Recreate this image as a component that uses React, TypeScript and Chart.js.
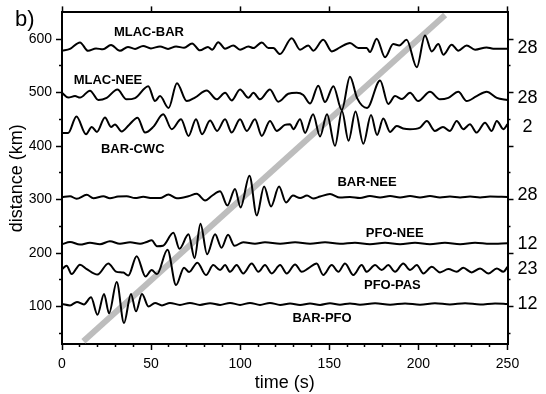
import React, { useEffect, useRef } from 'react';
import { Chart, registerables } from 'chart.js';

Chart.register(...registerables);

const FONT = "'Liberation Sans', Arial, Helvetica, sans-serif";

// tick values
const X_MAJOR_TICKS = [0, 50, 100, 150, 200, 250];
const X_MINOR_TICKS = [10, 20, 30, 40, 60, 70, 80, 90, 110, 120, 130, 140, 160, 170, 180, 190, 210, 220, 230, 240];
const Y_MAJOR_TICKS = [100, 200, 300, 400, 500, 600];
const Y_MINOR_TICKS = [50, 150, 250, 350, 450, 550];

// trace names and where their labels sit (time s, distance km)
const TRACE_NAMES = ['MLAC-BAR', 'MLAC-NEE', 'BAR-CWC', 'BAR-NEE', 'PFO-NEE', 'PFO-PAS', 'BAR-PFO'];
const NAME_TIME = [48.8, 25.8, 39.7, 171.2, 186.7, 185.4, 145.9];
const NAME_DIST = [613, 523, 394.4, 332.3, 236.4, 139, 78.3];

// numbers on the right side
const RIGHT_LABELS = ['28', '28', '2', '28', '12', '23', '12'];
const RIGHT_DIST = [583.3, 490.3, 435.9, 307.6, 217.8, 169.5, 104.4];

// 3 km/s move-out line
const ARRIVAL: [number, number][] = [[12, 35], [215, 645]];

// traces: [time (s), distance (km)]
const MLAC_BAR: [number, number][] = [[0,578.5],[4.5,581.8],[10.1,593.9],[14.6,578.1],[19.1,582.7],[23.0,580.9],[27.5,589.2],[32.5,578.1],[37.0,585.5],[41.0,581.8],[45.5,587.4],[49.9,582.7],[55.0,586.4],[59.5,581.8],[64.0,586.4],[68.5,583.7],[73.0,592.0],[77.4,579.0],[81.9,585.5],[84.2,580.3],[87.7,594.4],[91.5,582.2],[96.1,588.3],[99.9,580.3],[104.6,586.4],[107.4,583.3],[112.1,593.9],[115.8,583.3],[118.6,583.3],[122.3,572.1],[128.9,601.9],[133.6,580.3],[138.2,588.3],[141.0,578.5],[146.6,598.9],[151.4,577.1],[156.0,584.6],[161.6,592.6],[166.3,583.3],[171.0,583.3],[172.8,575.8],[176.6,600.8],[181.3,566.0],[185.9,590.7],[189.3,588.3],[193.4,598.9],[199.1,547.4],[203.7,606.9],[207.5,577.1],[211.2,590.7],[214.0,571.0],[218.7,589.6],[222.4,578.5],[227.1,588.3],[231.8,580.3],[238.3,584.6],[242.0,582.2],[250,582.2]];

const MLAC_NEE: [number, number][] = [[0,499.6],[3.5,490.7],[7.3,493.5],[10.1,490.7],[15.7,503.7],[20.4,486.1],[25.1,490.3],[31.1,505.9],[36.2,487.4],[41.0,489.8],[48.4,512.1],[52.2,484.2],[55.0,493.5],[59.8,471.2],[64.5,517.7],[70.0,484.2],[74.6,490.7],[81.2,504.1],[86.8,487.4],[91.5,499.6],[95.2,485.5],[99.9,505.9],[104.6,490.3],[107.4,499.6],[111.1,487.4],[116.7,505.9],[121.4,482.9],[127.0,497.8],[131.7,499.6],[135.4,495.4],[139.2,479.6],[143.8,513.0],[147.6,482.3],[152.3,512.1],[157.0,467.5],[161.6,529.7],[165.6,489.8],[171.2,471.2],[178.5,522.7],[183.1,478.6],[186.9,493.5],[190.8,487.9],[195.3,499.6],[199.9,484.2],[206.5,501.5],[212.1,487.4],[216.8,490.3],[222.4,501.5],[227.1,484.2],[232.7,493.5],[238.3,501.5],[244.0,490.3],[250,486.1]];

const BAR_CWC: [number, number][] = [[0,424.7],[3.5,424.7],[8.1,455.4],[13.5,422.3],[16.7,435.9],[19.6,426.6],[24.1,453.5],[27.5,435.9],[29.7,440.5],[33.5,427.5],[37.6,439.6],[42.4,453.2],[46.6,425.3],[51.2,435.9],[56.8,459.5],[61.6,431.6],[66.8,450.2],[71.0,419.1],[75.2,450.2],[78.6,422.3],[83.1,447.9],[87.0,428.4],[91.5,450.2],[95.2,425.3],[99.9,450.2],[103.7,428.4],[108.3,450.2],[112.1,419.1],[116.7,447.0],[120.5,428.4],[125.1,439.6],[128.0,440.9],[129.8,431.6],[133.6,450.2],[136.4,424.7],[140.9,459.5],[144.8,418.2],[148.7,459.5],[153.2,400.5],[157.1,465.6],[160.8,409.8],[164.7,464.7],[169.1,404.3],[173.4,458.2],[176.8,421.0],[180.3,451.7],[184.1,426.6],[187.8,437.7],[191.4,433.1],[195.3,431.6],[200.9,434.6],[204.7,447.0],[209.3,428.4],[213.8,435.9],[217.7,428.4],[221.5,447.0],[225.2,431.6],[228.9,440.9],[232.7,425.3],[237.4,443.9],[241.1,428.4],[244.0,447.0],[247.7,431.6],[250,440.9]];

const BAR_NEE: [number, number][] = [[0,304.8],[4.5,306.3],[8.2,301.5],[13.9,308.9],[17.6,302.6],[23.2,306.3],[26.9,302.6],[31.4,305.7],[36.3,306.3],[41.0,302.9],[45.6,305.2],[50.5,302.9],[55.0,302.9],[59.7,309.4],[64.4,302.6],[70.9,306.3],[75.6,310.8],[80.3,298.3],[84.0,306.7],[88.7,315.6],[92.8,289.0],[97.1,320.0],[100.2,285.3],[105.2,344.8],[109.3,270.4],[113.4,324.3],[117.3,287.1],[121.8,324.3],[125.7,294.6],[129.6,307.6],[133.6,302.9],[137.5,307.6],[141.0,302.0],[144.8,305.7],[150.4,310.4],[156.0,303.9],[161.6,304.8],[167.2,302.9],[172.8,306.7],[178.5,303.9],[184.1,306.7],[189.7,303.9],[195.3,306.7],[200.9,303.9],[206.5,306.7],[212.1,303.9],[217.7,305.7],[223.4,303.9],[229.0,305.7],[234.6,303.9],[240.2,305.7],[250,304.8]];

const PFO_NEE: [number, number][] = [[0,216.5],[4.5,220.8],[10.1,215.9],[15.7,219.3],[21.3,216.5],[26.9,222.1],[32.5,217.4],[38.2,220.2],[43.8,217.4],[47.5,220.8],[50.3,223.9],[53.3,212.8],[56.7,213.7],[62.5,237.9],[65.9,208.1],[71.0,235.1],[74.4,190.5],[77.7,255.0],[81.4,197.9],[85.9,235.1],[89.5,210.0],[93.2,234.2],[96.8,213.7],[101.7,220.2],[108.3,217.4],[113.9,220.2],[122.4,217.4],[130.8,220.2],[139.2,217.4],[147.6,220.2],[156.0,217.4],[164.4,219.3],[172.8,216.5],[181.3,219.3],[189.7,216.5],[198.1,219.3],[206.5,216.5],[214.9,219.3],[223.4,216.5],[231.8,219.3],[240.2,217.4],[250,218.4]];

const PFO_PAS: [number, number][] = [[0,170.0],[2.6,176.5],[5.4,160.7],[10.1,178.4],[13.9,170.0],[19.9,159.8],[26.0,180.6],[30.3,165.4],[34.4,163.5],[37.2,157.9],[41.9,194.2],[46.9,156.1],[50.3,168.2],[53.3,160.7],[59.2,206.3],[64.0,140.3],[68.5,172.8],[71.3,164.5],[76.0,182.1],[80.8,158.9],[84.9,177.5],[88.7,168.2],[91.5,177.5],[94.3,165.0],[98.0,177.5],[101.7,162.0],[106.5,180.6],[110.2,165.0],[113.9,177.5],[117.7,162.0],[122.4,177.5],[126.1,162.0],[130.8,178.8],[134.5,165.0],[138.2,171.3],[142.9,180.6],[146.6,158.9],[151.4,177.5],[155.1,165.0],[158.8,180.6],[163.5,158.9],[168.2,177.5],[171.0,165.0],[175.7,177.5],[179.4,168.2],[183.1,177.5],[186.9,165.0],[191.5,180.6],[195.3,168.2],[199.1,177.5],[202.8,162.0],[207.5,174.3],[212.1,163.9],[216.8,170.0],[221.5,165.0],[225.2,172.4],[229.9,163.9],[234.6,171.3],[239.3,162.0],[244.0,171.3],[247.7,165.0],[250,174.3]];

const BAR_PFO: [number, number][] = [[0,104.9],[4.5,102.2],[8.4,108.7],[12.3,104.0],[16.3,117.4],[19.9,84.5],[23.6,123.6],[26.4,87.3],[30.7,145.9],[34.8,69.1],[38.7,123.6],[41.5,91.0],[44.9,123.6],[48.5,100.3],[52.2,106.8],[56.1,102.2],[60.6,106.8],[66.2,103.1],[71.8,106.8],[77.4,103.1],[83.1,106.2],[88.7,103.1],[94.3,106.8],[99.9,103.1],[105.5,106.8],[111.1,103.1],[116.7,106.8],[122.4,103.1],[128.0,105.9],[133.6,103.1],[139.2,105.9],[144.8,103.1],[150.4,106.2],[156.0,103.5],[161.6,105.9],[167.2,103.5],[175.7,106.2],[184.1,103.5],[192.5,105.9],[200.9,103.5],[209.3,106.2],[217.7,104.0],[226.2,106.2],[234.6,104.0],[243.0,105.9],[250,104.9]];

const TRACES = [MLAC_BAR, MLAC_NEE, BAR_CWC, BAR_NEE, PFO_NEE, PFO_PAS, BAR_PFO];

const setTicks = (vals: number[]) => (s: any) => {
  s.ticks = vals.map((v) => ({ value: v }));
};

const textPlugin = {
  id: 'seisText',
  afterDraw(chart: any) {
    const { ctx, scales } = chart;
    const xs = scales.x;
    const ys = scales.y;
    ctx.save();
    ctx.fillStyle = '#000';
    ctx.textAlign = 'center';
    ctx.textBaseline = 'middle';
    ctx.font = `bold 13px ${FONT}`;
    TRACE_NAMES.forEach((n, i) => {
      ctx.fillText(n, xs.getPixelForValue(NAME_TIME[i]), ys.getPixelForValue(NAME_DIST[i]));
    });
    ctx.font = `18px ${FONT}`;
    const xr = scales.yRight.left + 20;
    RIGHT_LABELS.forEach((g, i) => {
      ctx.fillText(g, xr, ys.getPixelForValue(RIGHT_DIST[i]));
    });
    ctx.textAlign = 'left';
    ctx.textBaseline = 'alphabetic';
    ctx.font = `22px ${FONT}`;
    ctx.fillText('b)', 15, 26);
    ctx.restore();
  },
};

export default function App() {
  const ref = useRef<HTMLCanvasElement>(null);
  useEffect(() => {
    document.body.style.margin = '0';
    Chart.defaults.font.family = FONT;
    Chart.defaults.color = '#000';
    const axisBase = (min: number, max: number) => ({
      type: 'linear' as const,
      min,
      max,
    });
    const tickGrid = (len: number) => ({
      display: true,
      drawOnChartArea: false,
      drawTicks: true,
      tickLength: len,
      tickWidth: 1.5,
      tickColor: '#000',
    });
    const datasets: any[] = TRACES.map((pts) => ({
      data: pts.map(([x, y]) => ({ x, y })),
      showLine: true,
      borderColor: '#000',
      borderWidth: 2,
      pointRadius: 0,
      cubicInterpolationMode: 'monotone',
      xAxisID: 'x',
      yAxisID: 'y',
      order: 0,
    }));
    datasets.push({
      data: ARRIVAL.map(([x, y]) => ({ x, y })),
      showLine: true,
      borderColor: '#bdbdbd',
      borderWidth: 6,
      pointRadius: 0,
      xAxisID: 'x',
      yAxisID: 'y',
      order: 5,
    });
    const chart = new Chart(ref.current!, {
      type: 'scatter',
      data: { datasets },
      plugins: [textPlugin],
      options: {
        animation: false,
        responsive: false,
        devicePixelRatio: 1,
        layout: { padding: 0 },
        plugins: { legend: { display: false }, tooltip: { enabled: false } },
        scales: {
          x: {
            ...axisBase(0, 250),
            position: 'bottom',
            weight: 1,
            afterBuildTicks: setTicks(X_MAJOR_TICKS),
            ticks: { font: { size: 14 }, color: '#000', padding: 6, autoSkip: false, maxRotation: 0 },
            grid: tickGrid(6),
            border: { display: true, color: '#000', width: 2 },
            title: { display: true, text: 'time (s)', font: { size: 18 }, color: '#000', padding: { top: 0, bottom: 0 } },
            afterFit: (s: any) => { s.height = 50; },
          },
          xMinor: {
            ...axisBase(0, 250),
            position: 'bottom',
            weight: 0,
            afterBuildTicks: setTicks(X_MINOR_TICKS),
            ticks: { display: false, autoSkip: false },
            grid: tickGrid(3),
            border: { display: false },
            afterFit: (s: any) => { s.height = 0; },
          },
          xTop: {
            ...axisBase(0, 250),
            position: 'top',
            weight: 1,
            afterBuildTicks: setTicks(X_MAJOR_TICKS),
            ticks: { display: false, autoSkip: false },
            grid: tickGrid(6),
            border: { display: true, color: '#000', width: 2 },
            afterFit: (s: any) => { s.height = 11; },
          },
          y: {
            ...axisBase(30, 650),
            position: 'left',
            weight: 1,
            afterBuildTicks: setTicks(Y_MAJOR_TICKS),
            ticks: { font: { size: 14 }, color: '#000', padding: 4, autoSkip: false },
            grid: tickGrid(6),
            border: { display: true, color: '#000', width: 2 },
            title: { display: true, text: 'distance (km)', font: { size: 18 }, color: '#000', padding: { top: 6, bottom: 0 } },
            afterFit: (s: any) => { s.width = 62; },
          },
          yMinor: {
            ...axisBase(30, 650),
            position: 'left',
            weight: 0,
            afterBuildTicks: setTicks(Y_MINOR_TICKS),
            ticks: { display: false, autoSkip: false },
            grid: tickGrid(3),
            border: { display: false },
            afterFit: (s: any) => { s.width = 0; },
          },
          yRight: {
            ...axisBase(30, 650),
            position: 'right',
            weight: 1,
            afterBuildTicks: setTicks(Y_MAJOR_TICKS),
            ticks: { display: false, autoSkip: false },
            grid: tickGrid(6),
            border: { display: true, color: '#000', width: 2 },
            afterFit: (s: any) => { s.width = 38.5; },
          },
          yRightMinor: {
            ...axisBase(30, 650),
            position: 'right',
            weight: 0,
            afterBuildTicks: setTicks(Y_MINOR_TICKS),
            ticks: { display: false, autoSkip: false },
            grid: tickGrid(3),
            border: { display: false },
            afterFit: (s: any) => { s.width = 0; },
          },
        },
      } as any,
    });
    return () => chart.destroy();
  }, []);
  return (
    <div style={{ width: 546, height: 394 }}>
      <canvas ref={ref} width={546} height={394} style={{ display: 'block' }} />
    </div>
  );
}
